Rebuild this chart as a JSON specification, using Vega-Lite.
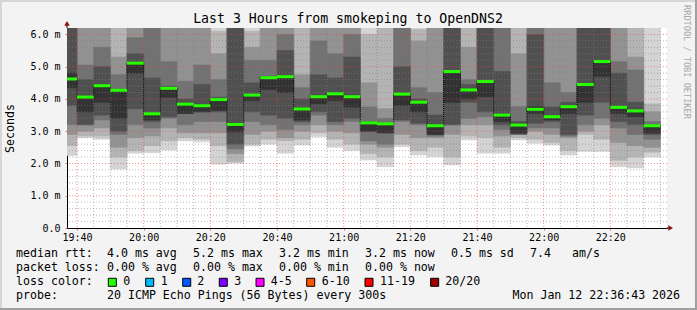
{
"$schema": "https://vega.github.io/schema/vega-lite/v6.json",
"width": 600, "height": 200,
"autosize": "none",
"padding": {"left": 67, "top": 28, "right": 30, "bottom": 82},
"background": "#f3f3f3",
"config": {"view": {"fill": "#ffffff", "stroke": null}, "font": "DejaVu Sans Mono",
  "axis": {"labelFont": "DejaVu Sans Mono", "labelFontSize": 10, "labelColor": "#000000", "domainColor": "#000000", "zindex": 1, "labelOverlap": false, "labelFlush": false, "grid": false}},
"datasets": {
"smoke": [
{"s":1175,"e":1180,"k":1,"lo":2.25,"hi":6.2},{"s":1180,"e":1185,"k":1,"lo":2.8,"hi":6.2},{"s":1185,"e":1190,"k":1,"lo":2.75,"hi":6.2},{"s":1190,"e":1195,"k":1,"lo":1.83,"hi":6.2},{"s":1195,"e":1200,"k":1,"lo":2.32,"hi":6.2},{"s":1200,"e":1205,"k":1,"lo":2.33,"hi":6.2},{"s":1205,"e":1210,"k":1,"lo":2.42,"hi":6.2},{"s":1210,"e":1215,"k":1,"lo":2.7,"hi":6.2},{"s":1215,"e":1220,"k":1,"lo":2.67,"hi":6.2},{"s":1220,"e":1225,"k":1,"lo":1.98,"hi":6.2},{"s":1225,"e":1230,"k":1,"lo":2.01,"hi":6.2},{"s":1230,"e":1235,"k":1,"lo":2.54,"hi":6.2},{"s":1235,"e":1240,"k":1,"lo":2.6,"hi":6.2},{"s":1240,"e":1245,"k":1,"lo":2.32,"hi":6.2},{"s":1245,"e":1250,"k":1,"lo":2.57,"hi":6.2},{"s":1250,"e":1255,"k":1,"lo":2.83,"hi":6.2},{"s":1255,"e":1260,"k":1,"lo":2.5,"hi":6.2},{"s":1260,"e":1265,"k":1,"lo":2.4,"hi":6.2},{"s":1265,"e":1270,"k":1,"lo":2.11,"hi":6.2},{"s":1270,"e":1275,"k":1,"lo":1.9,"hi":6.2},{"s":1275,"e":1280,"k":1,"lo":2.52,"hi":6.2},{"s":1280,"e":1285,"k":1,"lo":2.26,"hi":6.2},{"s":1285,"e":1290,"k":1,"lo":2.21,"hi":6.2},{"s":1290,"e":1295,"k":1,"lo":1.95,"hi":6.2},{"s":1295,"e":1300,"k":1,"lo":2.73,"hi":6.2},{"s":1300,"e":1305,"k":1,"lo":2.32,"hi":6.2},{"s":1305,"e":1310,"k":1,"lo":2.32,"hi":6.2},{"s":1310,"e":1315,"k":1,"lo":2.73,"hi":6.2},{"s":1315,"e":1320,"k":1,"lo":2.63,"hi":6.2},{"s":1320,"e":1325,"k":1,"lo":2.57,"hi":6.2},{"s":1325,"e":1330,"k":1,"lo":2.26,"hi":6.2},{"s":1330,"e":1335,"k":1,"lo":2.37,"hi":6.2},{"s":1335,"e":1340,"k":1,"lo":2.37,"hi":6.2},{"s":1340,"e":1345,"k":1,"lo":1.9,"hi":6.2},{"s":1345,"e":1350,"k":1,"lo":1.86,"hi":6.2},{"s":1350,"e":1355,"k":1,"lo":2.2,"hi":6.2},
{"s":1175,"e":1180,"k":3,"lo":2.55,"hi":6.2},{"s":1180,"e":1185,"k":3,"lo":2.85,"hi":6.2},{"s":1185,"e":1190,"k":3,"lo":2.85,"hi":6.2},{"s":1190,"e":1195,"k":3,"lo":2.2,"hi":6.2},{"s":1195,"e":1200,"k":3,"lo":2.4,"hi":6.2},{"s":1200,"e":1205,"k":3,"lo":2.55,"hi":6.2},{"s":1205,"e":1210,"k":3,"lo":2.7,"hi":6.2},{"s":1210,"e":1215,"k":3,"lo":2.8,"hi":6.2},{"s":1215,"e":1220,"k":3,"lo":2.75,"hi":6.2},{"s":1220,"e":1225,"k":3,"lo":2.55,"hi":6.1},{"s":1225,"e":1230,"k":3,"lo":2.05,"hi":6.2},{"s":1230,"e":1235,"k":3,"lo":2.6,"hi":6.1},{"s":1235,"e":1240,"k":3,"lo":2.75,"hi":6.2},{"s":1240,"e":1245,"k":3,"lo":2.7,"hi":6.2},{"s":1245,"e":1250,"k":3,"lo":2.75,"hi":6.2},{"s":1250,"e":1255,"k":3,"lo":2.95,"hi":6.2},{"s":1255,"e":1260,"k":3,"lo":2.75,"hi":6.2},{"s":1260,"e":1265,"k":3,"lo":2.6,"hi":6.2},{"s":1265,"e":1270,"k":3,"lo":2.3,"hi":6.0},{"s":1270,"e":1275,"k":3,"lo":2.2,"hi":6.2},{"s":1275,"e":1280,"k":3,"lo":2.6,"hi":6.2},{"s":1280,"e":1285,"k":3,"lo":2.4,"hi":6.15},{"s":1285,"e":1290,"k":3,"lo":2.5,"hi":6.2},{"s":1290,"e":1295,"k":3,"lo":2.2,"hi":6.2},{"s":1295,"e":1300,"k":3,"lo":2.85,"hi":6.2},{"s":1300,"e":1305,"k":3,"lo":2.8,"hi":6.2},{"s":1305,"e":1310,"k":3,"lo":2.5,"hi":6.2},{"s":1310,"e":1315,"k":3,"lo":2.8,"hi":6.2},{"s":1315,"e":1320,"k":3,"lo":2.75,"hi":6.2},{"s":1320,"e":1325,"k":3,"lo":2.65,"hi":6.2},{"s":1325,"e":1330,"k":3,"lo":2.4,"hi":6.2},{"s":1330,"e":1335,"k":3,"lo":2.9,"hi":6.2},{"s":1335,"e":1340,"k":3,"lo":2.75,"hi":6.2},{"s":1340,"e":1345,"k":3,"lo":2.1,"hi":6.2},{"s":1345,"e":1350,"k":3,"lo":2.2,"hi":6.2},{"s":1350,"e":1355,"k":3,"lo":2.35,"hi":3.85},
{"s":1175,"e":1180,"k":5,"lo":2.9,"hi":6.2},{"s":1180,"e":1185,"k":5,"lo":3.0,"hi":6.2},{"s":1185,"e":1190,"k":5,"lo":3.1,"hi":6.2},{"s":1190,"e":1195,"k":5,"lo":2.5,"hi":5.3},{"s":1195,"e":1200,"k":5,"lo":2.8,"hi":6.2},{"s":1200,"e":1205,"k":5,"lo":2.85,"hi":6.2},{"s":1205,"e":1210,"k":5,"lo":3.1,"hi":6.2},{"s":1210,"e":1215,"k":5,"lo":2.95,"hi":6.2},{"s":1215,"e":1220,"k":5,"lo":2.95,"hi":6.2},{"s":1220,"e":1225,"k":5,"lo":2.95,"hi":5.4},{"s":1225,"e":1230,"k":5,"lo":2.3,"hi":6.2},{"s":1230,"e":1235,"k":5,"lo":2.9,"hi":5.6},{"s":1235,"e":1240,"k":5,"lo":3.0,"hi":6.2},{"s":1240,"e":1245,"k":5,"lo":2.8,"hi":6.2},{"s":1245,"e":1250,"k":5,"lo":3.0,"hi":4.75},{"s":1250,"e":1255,"k":5,"lo":3.2,"hi":6.2},{"s":1255,"e":1260,"k":5,"lo":3.0,"hi":6.2},{"s":1260,"e":1265,"k":5,"lo":2.95,"hi":6.2},{"s":1265,"e":1270,"k":5,"lo":2.6,"hi":4.5},{"s":1270,"e":1275,"k":5,"lo":2.5,"hi":3.7},{"s":1275,"e":1280,"k":5,"lo":2.9,"hi":6.2},{"s":1280,"e":1285,"k":5,"lo":2.8,"hi":5.8},{"s":1285,"e":1290,"k":5,"lo":2.8,"hi":6.2},{"s":1290,"e":1295,"k":5,"lo":2.9,"hi":6.2},{"s":1295,"e":1300,"k":5,"lo":3.2,"hi":5.6},{"s":1300,"e":1305,"k":5,"lo":3.2,"hi":6.2},{"s":1305,"e":1310,"k":5,"lo":2.85,"hi":6.2},{"s":1310,"e":1315,"k":5,"lo":3.0,"hi":5.4},{"s":1315,"e":1320,"k":5,"lo":3.0,"hi":6.2},{"s":1320,"e":1325,"k":5,"lo":2.9,"hi":6.2},{"s":1325,"e":1330,"k":5,"lo":2.8,"hi":6.2},{"s":1330,"e":1335,"k":5,"lo":3.0,"hi":6.2},{"s":1335,"e":1340,"k":5,"lo":3.2,"hi":6.2},{"s":1340,"e":1345,"k":5,"lo":2.65,"hi":6.2},{"s":1345,"e":1350,"k":5,"lo":2.55,"hi":5.3},{"s":1350,"e":1355,"k":5,"lo":2.5,"hi":3.6},
{"s":1175,"e":1180,"k":7,"lo":3.2,"hi":6.2},{"s":1180,"e":1185,"k":7,"lo":3.2,"hi":5.05},{"s":1185,"e":1190,"k":7,"lo":3.35,"hi":5.6},{"s":1190,"e":1195,"k":7,"lo":2.9,"hi":4.75},{"s":1195,"e":1200,"k":7,"lo":3.2,"hi":5.9},{"s":1200,"e":1205,"k":7,"lo":3.1,"hi":6.2},{"s":1205,"e":1210,"k":7,"lo":3.4,"hi":5.15},{"s":1210,"e":1215,"k":7,"lo":3.2,"hi":4.55},{"s":1215,"e":1220,"k":7,"lo":3.3,"hi":5.05},{"s":1220,"e":1225,"k":7,"lo":3.3,"hi":4.6},{"s":1225,"e":1230,"k":7,"lo":2.45,"hi":6.2},{"s":1230,"e":1235,"k":7,"lo":3.3,"hi":5.2},{"s":1235,"e":1240,"k":7,"lo":3.2,"hi":5.2},{"s":1240,"e":1245,"k":7,"lo":3.05,"hi":6.0},{"s":1245,"e":1250,"k":7,"lo":3.2,"hi":4.35},{"s":1250,"e":1255,"k":7,"lo":3.5,"hi":5.8},{"s":1255,"e":1260,"k":7,"lo":3.2,"hi":5.4},{"s":1260,"e":1265,"k":7,"lo":3.3,"hi":6.0},{"s":1265,"e":1270,"k":7,"lo":2.7,"hi":3.75},{"s":1270,"e":1275,"k":7,"lo":2.6,"hi":3.4},{"s":1275,"e":1280,"k":7,"lo":3.3,"hi":6.2},{"s":1280,"e":1285,"k":7,"lo":3.2,"hi":4.35},{"s":1285,"e":1290,"k":7,"lo":2.85,"hi":4.2},{"s":1290,"e":1295,"k":7,"lo":3.2,"hi":6.2},{"s":1295,"e":1300,"k":7,"lo":3.4,"hi":4.6},{"s":1300,"e":1305,"k":7,"lo":3.45,"hi":6.2},{"s":1305,"e":1310,"k":7,"lo":3.05,"hi":6.2},{"s":1310,"e":1315,"k":7,"lo":3.1,"hi":3.76},{"s":1315,"e":1320,"k":7,"lo":3.1,"hi":6.2},{"s":1320,"e":1325,"k":7,"lo":3.1,"hi":4.5},{"s":1325,"e":1330,"k":7,"lo":2.85,"hi":4.2},{"s":1330,"e":1335,"k":7,"lo":3.2,"hi":6.2},{"s":1335,"e":1340,"k":7,"lo":3.4,"hi":6.2},{"s":1340,"e":1345,"k":7,"lo":3.1,"hi":5.15},{"s":1345,"e":1350,"k":7,"lo":2.9,"hi":4.9},{"s":1350,"e":1355,"k":7,"lo":2.75,"hi":3.3},
{"s":1175,"e":1180,"k":9,"lo":3.8,"hi":6.2},{"s":1180,"e":1185,"k":9,"lo":3.2,"hi":4.6},{"s":1185,"e":1190,"k":9,"lo":3.5,"hi":5.0},{"s":1190,"e":1195,"k":9,"lo":3.0,"hi":4.3},{"s":1195,"e":1200,"k":9,"lo":3.7,"hi":5.4},{"s":1200,"e":1205,"k":9,"lo":3.3,"hi":4.65},{"s":1205,"e":1210,"k":9,"lo":3.45,"hi":4.4},{"s":1210,"e":1215,"k":9,"lo":3.55,"hi":4.0},{"s":1215,"e":1220,"k":9,"lo":3.6,"hi":4.45},{"s":1220,"e":1225,"k":9,"lo":3.6,"hi":4.05},{"s":1225,"e":1230,"k":9,"lo":2.6,"hi":6.2},{"s":1230,"e":1235,"k":9,"lo":3.6,"hi":4.5},{"s":1235,"e":1240,"k":9,"lo":3.5,"hi":4.7},{"s":1240,"e":1245,"k":9,"lo":3.4,"hi":5.5},{"s":1245,"e":1250,"k":9,"lo":3.3,"hi":4.0},{"s":1250,"e":1255,"k":9,"lo":3.6,"hi":4.75},{"s":1255,"e":1260,"k":9,"lo":3.3,"hi":4.65},{"s":1260,"e":1265,"k":9,"lo":3.4,"hi":5.3},{"s":1265,"e":1270,"k":9,"lo":3.0,"hi":3.3},{"s":1270,"e":1275,"k":9,"lo":2.95,"hi":3.25},{"s":1275,"e":1280,"k":9,"lo":3.35,"hi":5.0},{"s":1280,"e":1285,"k":9,"lo":3.25,"hi":4.0},{"s":1285,"e":1290,"k":9,"lo":2.9,"hi":3.5},{"s":1290,"e":1295,"k":9,"lo":3.2,"hi":6.2},{"s":1295,"e":1300,"k":9,"lo":3.9,"hi":4.45},{"s":1300,"e":1305,"k":9,"lo":3.6,"hi":6.2},{"s":1305,"e":1310,"k":9,"lo":3.2,"hi":4.85},{"s":1310,"e":1315,"k":9,"lo":2.9,"hi":3.3},{"s":1315,"e":1320,"k":9,"lo":3.25,"hi":6.0},{"s":1320,"e":1325,"k":9,"lo":3.3,"hi":3.75},{"s":1325,"e":1330,"k":9,"lo":2.9,"hi":3.9},{"s":1330,"e":1335,"k":9,"lo":3.5,"hi":6.2},{"s":1335,"e":1340,"k":9,"lo":3.9,"hi":6.2},{"s":1340,"e":1345,"k":9,"lo":3.3,"hi":4.8},{"s":1345,"e":1350,"k":9,"lo":3.2,"hi":3.9},{"s":1350,"e":1355,"k":9,"lo":2.9,"hi":3.2},
{"s":1175,"e":1180,"k":10,"lo":4.35,"hi":4.8},{"s":1180,"e":1185,"k":10,"lo":3.6,"hi":4.06},{"s":1185,"e":1190,"k":10,"lo":3.9,"hi":4.41},{"s":1190,"e":1195,"k":10,"lo":3.4,"hi":4.27},{"s":1195,"e":1200,"k":10,"lo":4.8,"hi":5.11},{"s":1200,"e":1205,"k":10,"lo":3.35,"hi":3.54},{"s":1205,"e":1210,"k":10,"lo":4.05,"hi":4.33},{"s":1210,"e":1215,"k":10,"lo":3.55,"hi":3.84},{"s":1215,"e":1220,"k":10,"lo":3.6,"hi":3.79},{"s":1220,"e":1225,"k":10,"lo":3.65,"hi":3.98},{"s":1225,"e":1230,"k":10,"lo":2.98,"hi":3.21},{"s":1230,"e":1235,"k":10,"lo":3.95,"hi":4.12},{"s":1235,"e":1240,"k":10,"lo":4.3,"hi":4.66},{"s":1240,"e":1245,"k":10,"lo":4.2,"hi":4.69},{"s":1245,"e":1250,"k":10,"lo":3.35,"hi":3.69},{"s":1250,"e":1255,"k":10,"lo":3.85,"hi":4.07},{"s":1255,"e":1260,"k":10,"lo":3.95,"hi":4.16},{"s":1260,"e":1265,"k":10,"lo":3.75,"hi":4.07},{"s":1265,"e":1270,"k":10,"lo":3.0,"hi":3.26},{"s":1270,"e":1275,"k":10,"lo":2.95,"hi":3.23},{"s":1275,"e":1280,"k":10,"lo":3.8,"hi":4.15},{"s":1280,"e":1285,"k":10,"lo":3.6,"hi":3.9},{"s":1285,"e":1290,"k":10,"lo":2.9,"hi":3.17},{"s":1290,"e":1295,"k":10,"lo":3.9,"hi":4.85},{"s":1295,"e":1300,"k":10,"lo":4.0,"hi":4.28},{"s":1300,"e":1305,"k":10,"lo":4.07,"hi":4.54},{"s":1305,"e":1310,"k":10,"lo":3.3,"hi":3.5},{"s":1310,"e":1315,"k":10,"lo":2.95,"hi":3.19},{"s":1315,"e":1320,"k":10,"lo":3.55,"hi":3.76},{"s":1320,"e":1325,"k":10,"lo":3.35,"hi":3.45},{"s":1325,"e":1330,"k":10,"lo":3.55,"hi":3.76},{"s":1330,"e":1335,"k":10,"lo":3.9,"hi":4.45},{"s":1335,"e":1340,"k":10,"lo":4.7,"hi":5.16},{"s":1340,"e":1345,"k":10,"lo":3.55,"hi":3.74},{"s":1345,"e":1350,"k":10,"lo":3.45,"hi":3.63},{"s":1350,"e":1355,"k":10,"lo":2.95,"hi":3.17}
],
"median": [
{"s":1175,"e":1180,"med":4.62},{"s":1180,"e":1185,"med":4.06},{"s":1185,"e":1190,"med":4.41},{"s":1190,"e":1195,"med":4.27},{"s":1195,"e":1200,"med":5.11},{"s":1200,"e":1205,"med":3.54},{"s":1205,"e":1210,"med":4.33},{"s":1210,"e":1215,"med":3.84},{"s":1215,"e":1220,"med":3.79},{"s":1220,"e":1225,"med":3.98},{"s":1225,"e":1230,"med":3.21},{"s":1230,"e":1235,"med":4.12},{"s":1235,"e":1240,"med":4.66},{"s":1240,"e":1245,"med":4.69},{"s":1245,"e":1250,"med":3.69},{"s":1250,"e":1255,"med":4.07},{"s":1255,"e":1260,"med":4.16},{"s":1260,"e":1265,"med":4.07},{"s":1265,"e":1270,"med":3.26},{"s":1270,"e":1275,"med":3.23},{"s":1275,"e":1280,"med":4.15},{"s":1280,"e":1285,"med":3.9},{"s":1285,"e":1290,"med":3.17},{"s":1290,"e":1295,"med":4.85},{"s":1295,"e":1300,"med":4.28},{"s":1300,"e":1305,"med":4.54},{"s":1305,"e":1310,"med":3.5},{"s":1310,"e":1315,"med":3.19},{"s":1315,"e":1320,"med":3.68},{"s":1320,"e":1325,"med":3.45},{"s":1325,"e":1330,"med":3.76},{"s":1330,"e":1335,"med":4.45},{"s":1335,"e":1340,"med":5.16},{"s":1340,"e":1345,"med":3.74},{"s":1345,"e":1350,"med":3.63},{"s":1350,"e":1355,"med":3.17}
],
"hminor": [{"v":0.2},{"v":0.4},{"v":0.6},{"v":0.8},{"v":1.2},{"v":1.4},{"v":1.6},{"v":1.8},{"v":2.2},{"v":2.4},{"v":2.6},{"v":2.8},{"v":3.2},{"v":3.4},{"v":3.6},{"v":3.8},{"v":4.2},{"v":4.4},{"v":4.6},{"v":4.8},{"v":5.2},{"v":5.4},{"v":5.6},{"v":5.8}],
"hmajor": [{"v":1},{"v":2},{"v":3},{"v":4},{"v":5},{"v":6}],
"vminor": [{"m":1185},{"m":1190},{"m":1195},{"m":1205},{"m":1210},{"m":1215},{"m":1225},{"m":1230},{"m":1235},{"m":1245},{"m":1250},{"m":1255},{"m":1265},{"m":1270},{"m":1275},{"m":1285},{"m":1290},{"m":1295},{"m":1305},{"m":1310},{"m":1315},{"m":1325},{"m":1330},{"m":1335},{"m":1345},{"m":1350},{"m":1355}],
"vmajor": [{"m":1180},{"m":1200},{"m":1220},{"m":1240},{"m":1260},{"m":1280},{"m":1300},{"m":1320},{"m":1340}],
"axisext": [{"m":1177,"m2":1177,"v":6.2,"v2":6.32},{"m":1357,"m2":1358,"v":0,"v2":0}],
"arrows": [{"m":1177,"v":6.34,"dir":"up"},{"m":1358.1,"v":0,"dir":"right"}],
"heading": [{"ln":-15.807,"col":47.43,"txt":"Last 3 Hours from smokeping to OpenDNS2"}],
"legend": [
{"ln":1,"col":0,"txt":"median rtt:"},{"ln":1,"col":13,"txt":"4.0 ms avg"},{"ln":1,"col":25.29,"txt":"5.2 ms max"},{"ln":1,"col":37.57,"txt":"3.2 ms min"},{"ln":1,"col":49.86,"txt":"3.2 ms now"},{"ln":1,"col":62.14,"txt":"0.5 ms sd"},{"ln":1,"col":73.43,"txt":"7.4"},{"ln":1,"col":79.43,"txt":"am/s"},
{"ln":2,"col":0,"txt":"packet loss:"},{"ln":2,"col":13,"txt":"0.00 % avg"},{"ln":2,"col":25.29,"txt":"0.00 % max"},{"ln":2,"col":37.57,"txt":"0.00 % min"},{"ln":2,"col":49.86,"txt":"0.00 % now"},
{"ln":3,"col":0,"txt":"loss color:"},{"ln":3,"col":15.33,"txt":"0"},{"ln":3,"col":20.67,"txt":"1"},{"ln":3,"col":25.9,"txt":"2"},{"ln":3,"col":31.19,"txt":"3"},{"ln":3,"col":36.39,"txt":"4-5"},{"ln":3,"col":43.67,"txt":"6-10"},{"ln":3,"col":52,"txt":"11-19"},{"ln":3,"col":61.33,"txt":"20/20"},
{"ln":4,"col":0,"txt":"probe:"},{"ln":4,"col":13,"txt":"20 ICMP Echo Pings (56 Bytes) every 300s"}
],
"stamp": [{"ln":4,"col":94.86,"txt":"Mon Jan 12 22:36:43 2026"}],
"swatch": [{"ln":3,"col":13.76,"loss":"0"},{"ln":3,"col":19.1,"loss":"1"},{"ln":3,"col":24.39,"loss":"2"},{"ln":3,"col":29.61,"loss":"3"},{"ln":3,"col":34.86,"loss":"4-5"},{"ln":3,"col":42.1,"loss":"6-10"},{"ln":3,"col":50.43,"loss":"11-19"},{"ln":3,"col":59.81,"loss":"20/20"}],
"watermark": [{"ln":-12.74,"col":95.86,"txt":"RRDTOOL / TOBI OETIKER"}],
"frame_light": [{"c1":-2.3,"c2":97.3,"l1":-17.093,"l2":-17.093},{"c1":-2.143,"c2":-2.143,"l1":-17.2,"l2":5.0}],
"frame_dark": [{"c1":-2.3,"c2":97.3,"l1":4.907,"l2":4.907},{"c1":97.14,"c2":97.14,"l1":-17.2,"l2":5.0}]
},
"layer": [
 {"layer": [
  {"data": {"name": "smoke"},
   "mark": {"type": "bar", "clip": true, "strokeWidth": 0.6},
   "encoding": {
    "x": {"field": "s", "type": "quantitative", "scale": {"domain": [1177, 1357], "nice": false, "zero": false},
      "axis": {"values": [1180,1200,1220,1240,1260,1280,1300,1320,1340], "tickCount": 9,
        "labelExpr": "utcFormat(datum.value * 60000, '%H:%M')",
        "labelOverlap": false, "labelSeparation": 0,
        "ticks": true, "tickSize": 2, "tickColor": "rgba(235,70,70,0.8)",
        "labelPadding": 2, "title": null}},
    "x2": {"field": "e"},
    "y": {"field": "lo", "type": "quantitative", "scale": {"domain": [0, 6.2], "nice": false},
      "axis": {"values": [0,1,2,3,4,5,6], "tickCount": 7,
        "labelExpr": "datum.value == 0 ? '0.0' : format(datum.value, '.1f') + ' m'",
        "labelOverlap": false, "labelSeparation": 0,
        "ticks": true, "tickSize": 2, "tickColor": "rgba(235,70,70,0.8)",
        "labelPadding": 5,
        "title": "Seconds", "titleFont": "DejaVu Sans Mono", "titleFontSize": 11.6, "titleFontWeight": "normal", "titleColor": "#000000",
        "titleX": -57, "titleY": 100, "titleAngle": -90, "titleAlign": "center", "titleBaseline": "middle"}},
    "y2": {"field": "hi"},
    "color": {"field": "k", "type": "ordinal", "scale": {"domain": [1,3,5,7,9,10], "range": ["#d4d4d4","#b4b4b4","#929292","#727272","#505050","#333333"]}, "legend": null},
    "stroke": {"field": "k", "type": "ordinal", "scale": {"domain": [1,3,5,7,9,10], "range": ["#d4d4d4","#b4b4b4","#929292","#727272","#505050","#333333"]}, "legend": null}
   }},
  {"data": {"name": "hminor"}, "mark": {"type": "rule", "color": "rgba(128,128,128,0.55)", "strokeWidth": 1, "strokeDash": [1, 2]},
   "encoding": {"y": {"field": "v", "type": "quantitative"}}},
  {"data": {"name": "vminor"}, "mark": {"type": "rule", "color": "rgba(128,128,128,0.55)", "strokeWidth": 1, "strokeDash": [1, 2]},
   "encoding": {"x": {"field": "m", "type": "quantitative"}}},
  {"data": {"name": "hmajor"}, "mark": {"type": "rule", "color": "rgba(235,70,70,0.6)", "strokeWidth": 1, "strokeDash": [1, 2]},
   "encoding": {"y": {"field": "v", "type": "quantitative"}}},
  {"data": {"name": "vmajor"}, "mark": {"type": "rule", "color": "rgba(235,70,70,0.6)", "strokeWidth": 1, "strokeDash": [1, 2]},
   "encoding": {"x": {"field": "m", "type": "quantitative"}}},
  {"data": {"name": "median"},
   "mark": {"type": "line", "interpolate": "step-after", "color": "#000000", "strokeWidth": 1, "strokeDash": [1, 1], "clip": true},
   "encoding": {"x": {"field": "s", "type": "quantitative"}, "y": {"field": "med", "type": "quantitative"}}},
  {"data": {"name": "median"},
   "mark": {"type": "rule", "color": "#26ff00", "strokeWidth": 3, "clip": true},
   "encoding": {"x": {"field": "s", "type": "quantitative"}, "x2": {"field": "e"}, "y": {"field": "med", "type": "quantitative"}}},
  {"data": {"name": "axisext"},
   "mark": {"type": "rule", "color": "#000000", "strokeWidth": 1},
   "encoding": {"x": {"field": "m", "type": "quantitative"}, "x2": {"field": "m2"}, "y": {"field": "v", "type": "quantitative"}, "y2": {"field": "v2"}}},
  {"data": {"name": "arrows"},
   "mark": {"type": "point", "filled": true, "size": 30, "color": "#8b1010", "opacity": 1},
   "encoding": {"x": {"field": "m", "type": "quantitative"}, "y": {"field": "v", "type": "quantitative"},
     "shape": {"field": "dir", "type": "nominal", "scale": {"domain": ["up", "right"], "range": ["triangle-up", "triangle-right"]}, "legend": null}}}
 ]},
 {"layer": [
  {"data": {"name": "legend"},
   "mark": {"type": "text", "align": "left", "baseline": "middle", "font": "DejaVu Sans Mono", "fontSize": 11.6, "color": "#000000"},
   "encoding": {
    "x": {"field": "col", "type": "quantitative", "scale": {"domain": [7.2857142857, 93], "nice": false, "zero": false}, "axis": null},
    "y": {"field": "ln", "type": "quantitative", "scale": {"domain": [-15.164, -0.879], "nice": false, "zero": false, "reverse": true}, "axis": null},
    "text": {"field": "txt"}}},
  {"data": {"name": "frame_light"},
   "mark": {"type": "rule", "color": "#d6d6d6", "strokeWidth": 2},
   "encoding": {"x": {"field": "c1", "type": "quantitative", "axis": null}, "x2": {"field": "c2"}, "y": {"field": "l1", "type": "quantitative", "axis": null}, "y2": {"field": "l2"}}},
  {"data": {"name": "frame_dark"},
   "mark": {"type": "rule", "color": "#a0a0a0", "strokeWidth": 2},
   "encoding": {"x": {"field": "c1", "type": "quantitative", "axis": null}, "x2": {"field": "c2"}, "y": {"field": "l1", "type": "quantitative", "axis": null}, "y2": {"field": "l2"}}},
  {"data": {"name": "heading"},
   "mark": {"type": "text", "align": "center", "baseline": "middle", "font": "DejaVu Sans Mono", "fontSize": 13.2, "color": "#000000"},
   "encoding": {"x": {"field": "col", "type": "quantitative", "axis": null}, "y": {"field": "ln", "type": "quantitative", "axis": null}, "text": {"field": "txt"}}},
  {"data": {"name": "stamp"},
   "mark": {"type": "text", "align": "right", "baseline": "middle", "font": "DejaVu Sans Mono", "fontSize": 11.6, "color": "#000000"},
   "encoding": {"x": {"field": "col", "type": "quantitative", "axis": null}, "y": {"field": "ln", "type": "quantitative", "axis": null}, "text": {"field": "txt"}}},
  {"data": {"name": "swatch"},
   "mark": {"type": "point", "shape": "square", "filled": true, "size": 64, "stroke": "#000000", "strokeWidth": 1, "opacity": 1},
   "encoding": {"x": {"field": "col", "type": "quantitative", "axis": null}, "y": {"field": "ln", "type": "quantitative", "axis": null},
     "color": {"field": "loss", "type": "nominal", "scale": {"domain": ["0","1","2","3","4-5","6-10","11-19","20/20"], "range": ["#26ff00","#00b8ff","#0059ff","#7e00ff","#ff00ff","#ff5500","#ff0000","#a10000"]}, "legend": null}}},
  {"data": {"name": "watermark"},
   "mark": {"type": "text", "align": "center", "baseline": "middle", "angle": 90, "font": "DejaVu Sans Mono", "fontSize": 8.6, "color": "#a8a8a8"},
   "encoding": {"x": {"field": "col", "type": "quantitative", "axis": null}, "y": {"field": "ln", "type": "quantitative", "axis": null}, "text": {"field": "txt"}}}
 ]}
],
"resolve": {"scale": {"x": "independent", "y": "independent", "color": "independent", "stroke": "independent", "shape": "independent"}}
}
